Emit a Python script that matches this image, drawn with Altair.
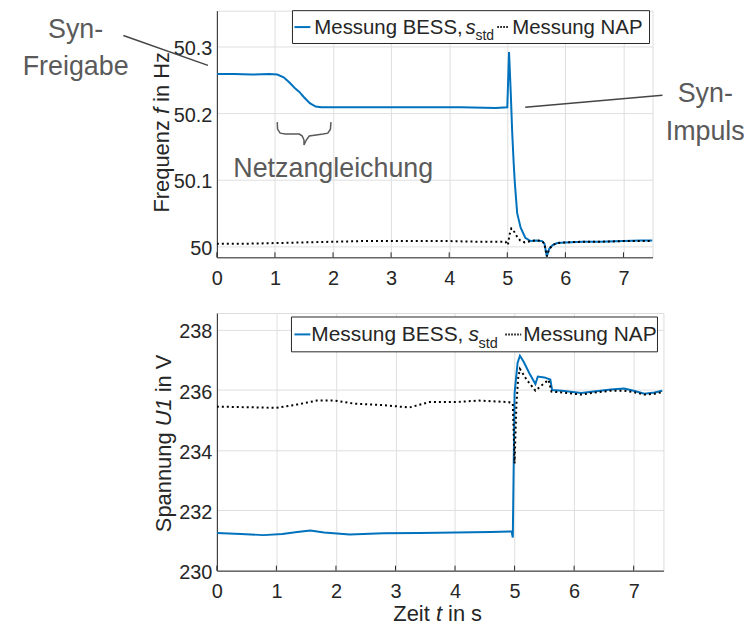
import altair as alt
import pandas as pd

FONT = "Liberation Sans"
AX = "#262626"
GRID = "#dfdfdf"
BLUE = "#0072BD"
ANN = "#5a5a5a"

# ---------------- data ----------------
x_ticks = [0, 1, 2, 3, 4, 5, 6, 7]
f_ticks = [50.0, 50.1, 50.2, 50.3]
u_ticks = [230, 232, 234, 236, 238]

top_bess_t = [0, 0.3, 0.6, 0.9, 1.04, 1.15, 1.25, 1.35, 1.42, 1.5, 1.6, 1.7, 1.8, 2.4, 3.0, 3.6,
              4.2, 4.8, 5.0, 5.03, 5.06, 5.085, 5.11, 5.13, 5.17, 5.23, 5.31, 5.40, 5.5, 5.6,
              5.64, 5.68, 5.72, 5.78, 5.86, 6.0, 6.3, 6.6, 7.0, 7.3, 7.5]
top_bess_f = [50.259, 50.259, 50.258, 50.259, 50.258, 50.254, 50.246, 50.237, 50.232, 50.224,
              50.215, 50.210, 50.209, 50.209, 50.209, 50.209, 50.209, 50.208, 50.209, 50.292,
              50.23, 50.17, 50.125, 50.095, 50.05, 50.028, 50.013, 50.008, 50.009, 50.008,
              50.004, 49.985, 49.996, 50.002, 50.005, 50.006, 50.007, 50.007, 50.008, 50.009, 50.009]

top_nap_t = [0, 0.5, 1.0, 1.5, 2.0, 2.5, 3.0, 3.5, 4.0, 4.5, 4.97, 5.01, 5.04, 5.07, 5.1, 5.15,
             5.22, 5.30, 5.4, 5.5, 5.6, 5.64, 5.68, 5.72, 5.78, 5.86, 6.0, 6.3, 6.6, 7.0, 7.3, 7.5]
top_nap_f = [50.004, 50.004, 50.005, 50.006, 50.007, 50.008, 50.008, 50.008, 50.008, 50.007,
             50.007, 50.002, 50.018, 50.027, 50.025, 50.017, 50.009, 50.006, 50.008, 50.009,
             50.008, 50.004, 49.985, 49.996, 50.002, 50.005, 50.006, 50.007, 50.007, 50.008,
             50.008, 50.008]

bot_bess_t = [0, 0.4, 0.78, 1.1, 1.35, 1.57, 1.8, 2.23, 2.8, 3.4, 4.0, 4.6, 4.95, 4.97, 4.985,
              5.0, 5.05, 5.09, 5.15, 5.25, 5.35, 5.39, 5.5, 5.6, 5.63, 5.8, 6.12, 6.4, 6.62,
              6.84, 7.0, 7.18, 7.35, 7.48]
bot_bess_u = [231.25, 231.22, 231.18, 231.22, 231.28, 231.33, 231.27, 231.2, 231.24, 231.25,
              231.27, 231.28, 231.3, 231.1, 233.5, 235.9, 236.9, 237.14, 236.95, 236.55, 236.2,
              236.45, 236.42, 236.35, 236.0, 235.98, 235.9, 235.97, 236.02, 236.05, 235.98,
              235.88, 235.92, 235.98]

bot_nap_t = [0, 0.5, 1.0, 1.3, 1.68, 1.98, 2.3, 2.8, 3.23, 3.57, 4.0, 4.4, 4.9, 4.97, 5.0, 5.03,
             5.06, 5.09, 5.2, 5.35, 5.45, 5.57, 5.62, 5.8, 6.12, 6.4, 6.62, 6.84, 7.0, 7.18,
             7.35, 7.48]
bot_nap_u = [235.45, 235.43, 235.41, 235.5, 235.65, 235.65, 235.55, 235.5, 235.42, 235.6, 235.6,
             235.65, 235.6, 235.55, 233.56, 235.5, 236.4, 236.7, 236.35, 235.98, 236.15, 236.34,
             235.95, 235.92, 235.85, 235.93, 235.98, 235.98, 235.93, 235.85, 235.88, 235.93]

# curly brace under the "Netzangleichung" phase (time / frequency coordinates)
brace_t = [1.04, 1.045, 1.09, 1.18, 1.42, 1.47, 1.50, 1.50, 1.54, 1.59, 1.83, 1.91, 1.955, 1.964]
brace_f = [50.1866, 50.1761, 50.1701, 50.1687, 50.1687, 50.1657, 50.1597, 50.1522, 50.1597,
           50.1657, 50.1687, 50.1701, 50.1761, 50.1866]

# ---------------- helpers ----------------
ONE = pd.DataFrame({"k": [0]})


def txt(s, x, y, size, color=AX, italic=False, align="left", angle=0, baseline="alphabetic"):
    return alt.Chart(ONE).mark_text(
        text=s, font=FONT, fontSize=size, color=color,
        fontStyle="italic" if italic else "normal",
        align=align, baseline=baseline, angle=angle,
    ).encode(x=alt.value(x), y=alt.value(y))


def seg(x1, y1, x2, y2, color, width=1.5, dash=None):
    kw = dict(color=color, strokeWidth=width)
    if dash:
        kw["strokeDash"] = dash
    return alt.Chart(ONE).mark_rule(**kw).encode(
        x=alt.value(x1), y=alt.value(y1), x2=alt.value(x2), y2=alt.value(y2))


def box(x1, y1, x2, y2):
    return alt.Chart(ONE).mark_rect(fill="white", stroke=AX, strokeWidth=1).encode(
        x=alt.value(x1), y=alt.value(y1), x2=alt.value(x2), y2=alt.value(y2))


def xaxis():
    return alt.Axis(values=x_ticks, title=None, format="d", grid=True, gridColor=GRID,
                    gridWidth=1, domainColor=AX, domainWidth=1, ticks=False, tickSize=0,
                    labelFont=FONT, labelFontSize=20, labelColor=AX, labelPadding=11,
                    labelFlush=False, labelOverlap=False)


def yaxis(vals):
    return alt.Axis(values=vals, title=None, format="~g", grid=True, gridColor=GRID,
                    gridWidth=1, domainColor=AX, domainWidth=1, ticks=False, tickSize=0,
                    labelFont=FONT, labelFontSize=20, labelColor=AX, labelPadding=5,
                    labelFlush=False, labelOverlap=False, labelOffset=2)


def panel(bess_t, bess_v, nap_t, nap_v, xdom, ydom, yvals, W, H):
    xs = alt.Scale(domain=xdom, nice=False, zero=False)
    ys = alt.Scale(domain=ydom, nice=False, zero=False)
    d_b = pd.DataFrame({"t": bess_t, "v": bess_v})
    d_n = pd.DataFrame({"t": nap_t, "v": nap_v})
    base_b = alt.Chart(d_b).mark_line(color=BLUE, strokeWidth=2, clip=True).encode(
        x=alt.X("t:Q", scale=xs, axis=xaxis()),
        y=alt.Y("v:Q", scale=ys, axis=yaxis(yvals)))
    nap = alt.Chart(d_n).mark_line(color="black", strokeWidth=2, strokeDash=[2, 3],
                                   clip=True).encode(x="t:Q", y="v:Q")
    ticks = alt.Chart(pd.DataFrame({"t": x_ticks})).mark_rule(color=AX, strokeWidth=1).encode(
        x="t:Q", y=alt.value(H), y2=alt.value(H - 5))
    return xs, ys, [base_b, nap, ticks]


# ---------------- top panel ----------------
TW, TH = 438, 248
xs_t, ys_t, top_layers = panel(top_bess_t, top_bess_f, top_nap_t, top_nap_f,
                               [0, 7.5], [49.9836, 50.354], f_ticks, TW, TH)

d_brace = pd.DataFrame({"t": brace_t, "v": brace_f, "i": list(range(len(brace_t)))})
brace = alt.Chart(d_brace).mark_line(color=ANN, strokeWidth=1.5).encode(
    x="t:Q", y="v:Q", order="i:Q")

top_extra = [
    box(76, 0, 435, 33),
    seg(78, 16.5, 94, 16.5, BLUE, 2),
    txt("Messung BESS,", 98, 23.5, 20.5),
    txt("s", 250, 23.5, 20.5, italic=True),
    txt("std", 260, 29.5, 14),
    seg(282, 16.5, 294, 16.5, "black", 2, [1.5, 1.5]),
    txt("Messung NAP", 297, 23.5, 20.5),
    # annotations
    txt("Syn-", -142, 27, 27, ANN, align="center"),
    txt("Freigabe", -142, 65, 27, ANN, align="center"),
    seg(-94, 25, -9, 55, "#454545", 1.5),
    brace,
    txt("Netzangleichung", 117, 167, 27, ANN, align="center"),
    txt("Syn-", 491, 92, 27, ANN, align="center"),
    txt("Impuls", 491, 130, 27, ANN, align="center"),
    seg(310, 97, 448, 85, "#454545", 1.5),
    # y title with italic f
    txt("Frequenz", -55, 203, 22, angle=270, baseline="middle"),
    txt("f", -55, 104, 22, italic=True, angle=270, baseline="middle"),
    txt("in Hz", -55, 91.8, 22, angle=270, baseline="middle"),
]
top = alt.layer(*top_layers, *top_extra).properties(width=TW, height=TH)

# ---------------- bottom panel ----------------
BW, BH = 449, 259
xs_b, ys_b, bot_layers = panel(bot_bess_t, bot_bess_u, bot_nap_t, bot_nap_u,
                               [0, 7.5], [230, 238.56], u_ticks, BW, BH)
bot_extra = [
    box(75, 4, 443, 39),
    seg(78, 21.5, 94, 21.5, BLUE, 2),
    txt("Messung BESS,", 95, 28.5, 21),
    txt("s", 253, 28.5, 21, italic=True),
    txt("std", 263, 35, 14.5),
    seg(290, 21.5, 306, 21.5, "black", 2, [1.5, 1.5]),
    txt("Messung NAP", 308, 28.5, 21),
    # y title with italic U1
    txt("Spannung", -53, 220.3, 22, angle=270, baseline="middle"),
    txt("U1", -53, 113.9, 22, italic=True, angle=270, baseline="middle"),
    txt("in V", -53, 79.7, 22, angle=270, baseline="middle"),
    # x title with italic t
    txt("Zeit", 177.4, 310, 22),
    txt("t", 220.2, 310, 22, italic=True),
    txt("in s", 232.4, 310, 22),
]
bottom = alt.layer(*bot_layers, *bot_extra).properties(width=BW, height=BH)

chart = alt.vconcat(top, bottom, spacing=56, bounds="flush").properties(
    padding={"left": 14, "top": 0, "right": 0, "bottom": 0}
).configure_view(stroke=None).configure(font=FONT)

chart.save("out.html", embed_options={"renderer": "svg", "actions": False})
